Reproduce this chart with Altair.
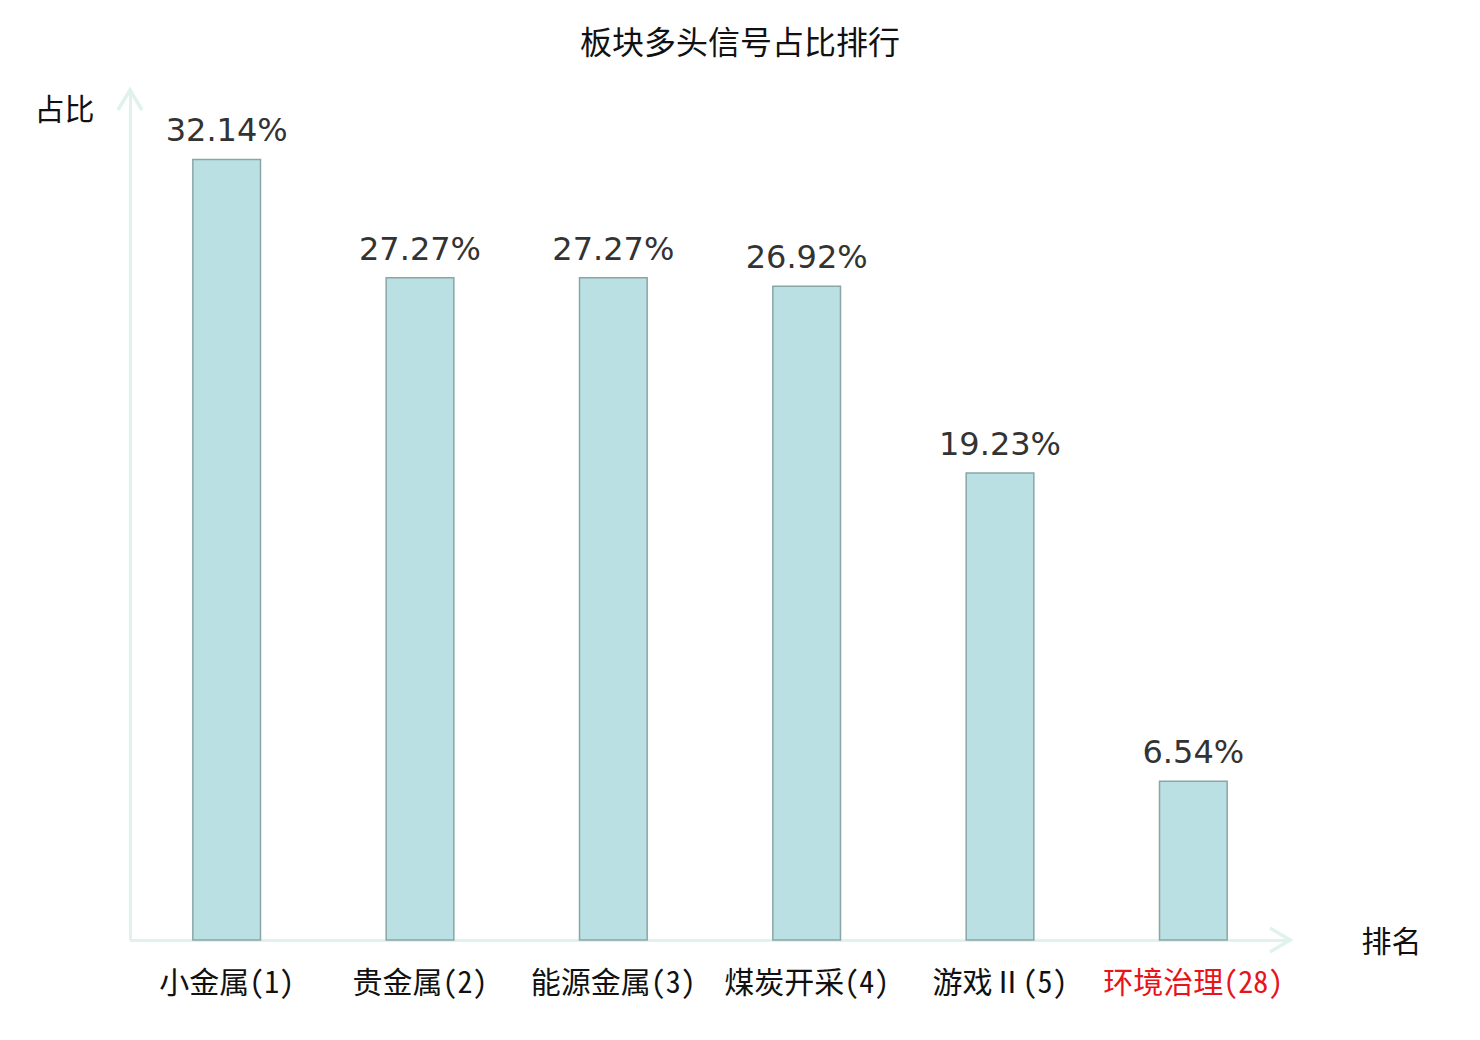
import altair as alt
import pandas as pd

categories = ["小金属(1)", "贵金属(2)", "能源金属(3)", "煤炭开采(4)", "游戏Ⅱ(5)", "环境治理(28)"]
values = [32.14, 27.27, 27.27, 26.92, 19.23, 6.54]
highlight = "环境治理(28)"

df = pd.DataFrame({"cat": categories, "val": values})
df["label"] = [f"{v:.2f}%" for v in values]

AXIS_COLOR = "#dff2ee"
CJK = "Noto Sans CJK SC"
LABEL_FONT = "Noto Sans Mono CJK SC, Noto Sans CJK SC"

W, H = 1160, 850

x = alt.X("cat:N", sort=categories,
          scale=alt.Scale(paddingInner=0, paddingOuter=0),
          axis=alt.Axis(title="排名", titleAngle=0, titleX=1261, titleY=2,
                        titleAlign="center", titleBaseline="middle",
                        titleFont=CJK, titleFontSize=30, titleFontWeight="normal",
                        titleColor="#111111",
                        labelAngle=0, labelFont=LABEL_FONT, labelFontSize=30,
                        labelBaseline="middle", labelPadding=43,
                        labelColor=alt.condition(f"datum.value == '{highlight}'",
                                                 alt.value("#e8141b"), alt.value("#111111")),
                        ticks=False, tickSize=0,
                        domainColor=AXIS_COLOR, domainWidth=3, grid=False))
y = alt.Y("val:Q", scale=alt.Scale(domain=[0, 35], nice=False, zero=True),
          axis=alt.Axis(title="占比", titleAngle=0, titleX=-66, titleY=20,
                        titleAlign="center", titleBaseline="middle",
                        titleFont=CJK, titleFontSize=30, titleFontWeight="normal",
                        titleColor="#111111",
                        labels=False, ticks=False, tickSize=0, grid=False,
                        domainColor=AXIS_COLOR, domainWidth=3))

base = alt.Chart(df)

bars = base.mark_bar(fill="#bbe0e3", stroke="#88a6a6", strokeWidth=1.5,
                     width=alt.RelativeBandSize(0.35)).encode(x=x, y=y)

texts = base.mark_text(font="DejaVu Sans", fontSize=32, color="#333333",
                       baseline="alphabetic", dy=-18).encode(
    x=alt.X("cat:N", sort=categories), y="val:Q", text="label:N")

arrow_df = pd.DataFrame({"k": [0]})
up_arrow = alt.Chart(arrow_df).mark_point(
    shape="M-0.6,1 L0,0 L0.6,1", size=1600, filled=False,
    stroke=AXIS_COLOR, strokeWidth=3.5, opacity=1).encode(
    x=alt.value(0), y=alt.datum(35))
right_arrow = alt.Chart(arrow_df).mark_point(
    shape="M-1,-0.6 L0,0 L-1,0.6", size=1600, filled=False,
    stroke=AXIS_COLOR, strokeWidth=3.5, opacity=1).encode(
    x=alt.value(W), y=alt.datum(0))

title = alt.Chart(arrow_df).mark_text(
    text="板块多头信号占比排行", font=CJK, fontSize=32, color="#111111",
    align="center", baseline="middle").encode(
    x=alt.value(610), y=alt.value(-46))

chart = alt.layer(bars, texts, up_arrow, right_arrow, title).properties(
    width=W, height=H,
    background="white",
    autosize=alt.AutoSizeParams(type="none"),
    padding={"left": 122, "top": 82, "right": 182, "bottom": 84},
).configure_view(strokeWidth=0, stroke=None)

chart.save("out.html", embed_options={"renderer": "svg", "actions": False})
